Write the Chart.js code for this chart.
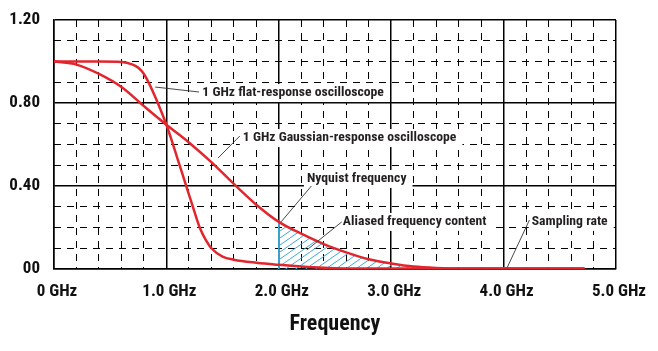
<!DOCTYPE html>
<html><head><meta charset="utf-8">
<script src="https://cdn.jsdelivr.net/npm/chart.js@4.4.0/dist/chart.umd.min.js"></script>
<style>html,body{margin:0;padding:0;background:#fff;}#wrap{width:658px;height:351px;}</style>
</head><body><div id="wrap"><canvas id="c" width="658" height="351"></canvas></div>
<script>
// ---- data ----
const flatFreq = [0,0.2,0.4,0.6,0.7,0.75,0.8,0.85,0.9,0.95,1.0,1.05,1.1,1.15,1.2,1.25,1.3,1.35,1.4,1.5,1.6,1.8,2.0,2.2,2.4,2.6,3.0,3.5,4.0,4.72];
const flatResp = [1.0,1.0,1.0,0.998,0.985,0.97,0.94,0.89,0.83,0.765,0.695,0.615,0.53,0.445,0.36,0.275,0.195,0.14,0.10,0.06,0.045,0.03,0.02,0.012,0.006,0.003,0.002,0.002,0.002,0.002];
const gaussFreq = [0,0.2,0.4,0.6,0.8,1.0,1.2,1.4,1.6,1.8,2.0,2.2,2.4,2.6,2.8,3.0,3.2,3.4,3.6,4.0,4.72];
const gaussResp = [1.0,0.985,0.94,0.877,0.785,0.695,0.61,0.515,0.41,0.31,0.227,0.17,0.12,0.08,0.047,0.027,0.012,0.005,0.002,0.002,0.002];
const nyquistFreq = 2.0;
const xTickValues = [0,1,2,3,4,5];
const xTickLabels = ['0 GHz','1.0 GHz','2.0 GHz','3.0 GHz','4.0 GHz','5.0 GHz'];
const yTickValues = [0,0.4,0.8,1.2];
const yTickLabels = ['00','0.40','0.80','1.20'];
const noteTexts = ['1 GHz flat-response oscilloscope','1 GHz Gaussian-response oscilloscope','Nyquist frequency','Aliased frequency content','Sampling rate'];
const noteAnchors = [[1.32,0.848],[1.68,0.631],[2.25,0.434],[2.57,0.227],[4.25,0.227]];
const leaderFrom = [[0.90,0.877],[1.46,0.535],[2.02,0.227],[2.25,0.092],[4.03,0.005]];
const leaderTo = [[1.29,0.853],[1.653,0.641],[2.29,0.40],[2.56,0.227],[4.23,0.236]];

const FONT = '"Roboto Condensed",Roboto,"Liberation Sans",sans-serif';
const RED = '#e2262d';
const BLUE = '#3ea8d4';

const flatPts = flatFreq.map((f,i)=>({x:f,y:flatResp[i]}));
const gaussPts = gaussFreq.map((f,i)=>({x:f,y:gaussResp[i]}));
const aliasPts = gaussPts.filter(p=>p.x>=nyquistFreq && p.x<=3.4);
const nyqVal = gaussResp[gaussFreq.indexOf(nyquistFreq)];

function hatchPattern(){
  const c=document.createElement('canvas'); c.width=10; c.height=7;
  const g=c.getContext('2d'); g.strokeStyle=BLUE; g.lineWidth=1;
  g.beginPath();
  g.moveTo(0,7); g.lineTo(10,0);
  g.moveTo(-10,7); g.lineTo(0,0);
  g.moveTo(10,7); g.lineTo(20,0);
  g.stroke();
  return g.createPattern(c,'repeat');
}

const NOTE_FONT = 'bold 13.7px '+FONT;
const notes = {
  id:'notes',
  beforeDatasetsDraw(chart){
    const {ctx, scales:{x,y}} = chart;
    ctx.save();
    ctx.font = NOTE_FONT;
    ctx.fillStyle = '#fff';
    noteTexts.forEach((t,i)=>{
      const px = x.getPixelForValue(noteAnchors[i][0]);
      const py = y.getPixelForValue(noteAnchors[i][1]);
      const w = ctx.measureText(t).width;
      ctx.fillRect(px-3, py-9, w+9, 18);
    });
    ctx.restore();
  },
  afterDatasetsDraw(chart){
    const {ctx, scales:{x,y}} = chart;
    ctx.save();
    ctx.strokeStyle = '#333'; ctx.lineWidth = 0.9;
    leaderFrom.forEach((a,i)=>{
      ctx.beginPath();
      ctx.moveTo(x.getPixelForValue(a[0]), y.getPixelForValue(a[1]));
      ctx.lineTo(x.getPixelForValue(leaderTo[i][0]), y.getPixelForValue(leaderTo[i][1]));
      ctx.stroke();
    });
    ctx.font = NOTE_FONT;
    ctx.fillStyle = '#231f20'; ctx.textBaseline='middle'; ctx.textAlign='left';
    noteTexts.forEach((t,i)=>{
      ctx.fillText(t, x.getPixelForValue(noteAnchors[i][0]), y.getPixelForValue(noteAnchors[i][1]));
    });
    ctx.restore();
  }
};

const isMajor = (v,step) => Math.abs(v/step - Math.round(v/step)) < 1e-6;
const noPad = s => { s.paddingLeft = 0; s.paddingRight = 0; s.paddingTop = 0; s.paddingBottom = 0; };

new Chart(document.getElementById('c'), {
  type:'line',
  data:{ datasets:[
    {data:flatPts, borderColor:RED, borderWidth:2.5, pointRadius:0, cubicInterpolationMode:'monotone', fill:false, order:0},
    {data:gaussPts, borderColor:RED, borderWidth:2.5, pointRadius:0, cubicInterpolationMode:'monotone', fill:false, order:0},
    {data:aliasPts, borderWidth:0, borderColor:'rgba(0,0,0,0)', backgroundColor:hatchPattern(), pointRadius:0, cubicInterpolationMode:'monotone', fill:'origin', order:3},
    {data:[{x:nyquistFreq,y:0},{x:nyquistFreq,y:nyqVal}], borderColor:BLUE, borderWidth:1.5, pointRadius:0, fill:false, order:2}
  ]},
  options:{
    responsive:false, animation:false, devicePixelRatio:1,
    layout:{padding:{left:0, top:20, right:42, bottom:0}},
    plugins:{legend:{display:false}, tooltip:{enabled:false}},
    scales:{
      x:{type:'linear', position:'bottom', min:0, max:5,
        afterBuildTicks:s=>{ s.ticks = xTickValues.map(v=>({value:v})); },
        ticks:{callback:(v)=>xTickLabels[xTickValues.indexOf(v)], font:{family:FONT, size:17, weight:'bold'}, color:'#111', padding:13, maxRotation:0, autoSkip:false, labelOffset:3},
        grid:{color:'#000', lineWidth:1.5, drawTicks:false},
        border:{display:true, color:'#000', width:1.5},
        title:{display:true, text:'Frequency', font:{family:FONT, size:22, weight:'bold'}, color:'#111', padding:{top:0,bottom:13}},
        afterFit:s=>{ s.height = 82; noPad(s); }
      },
      xMinor:{type:'linear', position:'top', min:0, max:5,
        afterBuildTicks:s=>{ const t=[]; for(let i=0;i<=25;i++) t.push({value:i*0.2}); s.ticks=t; },
        ticks:{display:false},
        grid:{drawTicks:false, lineWidth:1, color:c=> isMajor(c.tick.value,1) ? 'rgba(0,0,0,0)' : '#000'},
        border:{display:false, dash:[7,6]},
        afterFit:s=>{ s.height = 0; noPad(s); }
      },
      y:{type:'linear', position:'left', min:0, max:1.2,
        afterBuildTicks:s=>{ s.ticks = yTickValues.map(v=>({value:v})); },
        ticks:{callback:(v)=>yTickLabels[yTickValues.indexOf(v)], font:{family:FONT, size:17, weight:'bold'}, color:'#111', padding:14, autoSkip:false},
        grid:{color:'#000', lineWidth:1.5, drawTicks:false},
        border:{display:true, color:'#000', width:1.5},
        afterFit:s=>{ s.width = 54; noPad(s); }
      },
      yMinor:{type:'linear', position:'right', min:0, max:1.2,
        afterBuildTicks:s=>{ const t=[]; for(let i=0;i<=12;i++) t.push({value:i*0.1}); s.ticks=t; },
        ticks:{display:false},
        grid:{drawTicks:false, lineWidth:1, color:c=> isMajor(c.tick.value,0.4) ? 'rgba(0,0,0,0)' : '#000'},
        border:{display:false, dash:[7,6]},
        afterFit:s=>{ s.width = 0; noPad(s); }
      }
    }
  },
  plugins:[notes]
});
</script></body></html>
